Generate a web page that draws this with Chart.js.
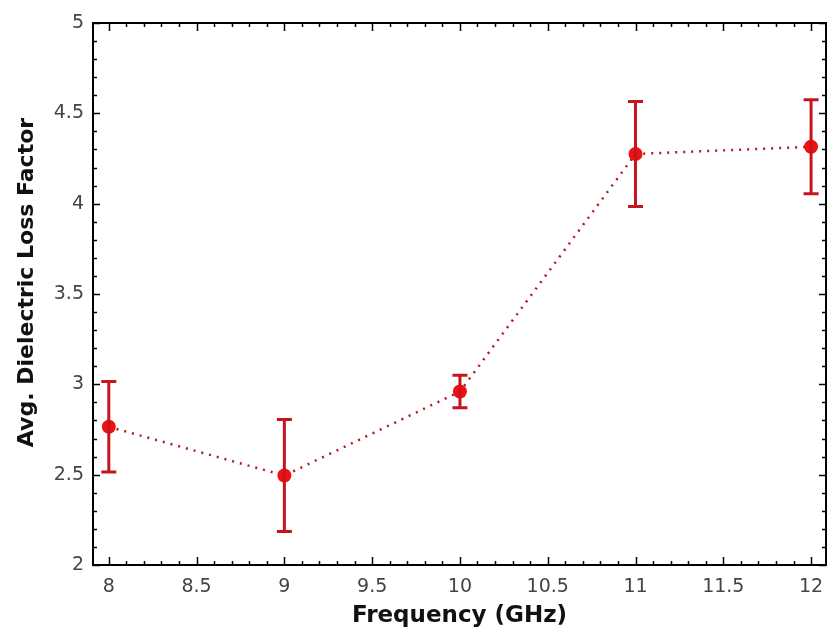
<!DOCTYPE html>
<html>
<head>
<meta charset="utf-8">
<script src="https://cdn.jsdelivr.net/npm/chart.js@4.4.1/dist/chart.umd.min.js"></script>
<style>
  html, body { margin: 0; padding: 0; background: #fff; }
  #wrap { width: 833px; height: 635px; }
</style>
</head>
<body>
<div id="wrap"><canvas id="chart"></canvas></div>
<script>
// data
const frequencies = [8, 9, 10, 11, 12]
const lossFactor = [2.765, 2.495, 2.96, 4.275, 4.315]
const lossError = [0.25, 0.31, 0.09, 0.29, 0.26]
const xTicks = [8, 8.5, 9, 9.5, 10, 10.5, 11, 11.5, 12]
const yTicks = [2, 2.5, 3, 3.5, 4, 4.5, 5]

const FONT = '"DejaVu Sans", Verdana, sans-serif'

// error bars, frame and inward ticks (major + minor)
const decorPlugin = {
  id: 'decor',
  afterDatasetsDraw(chart) {
    const ctx = chart.ctx
    const x = chart.scales.x
    const y = chart.scales.y
    const area = chart.chartArea

    ctx.save()
    // error bars
    ctx.strokeStyle = '#c8141e'
    ctx.lineWidth = 3
    frequencies.forEach((f, i) => {
      const px = x.getPixelForValue(f)
      const top = y.getPixelForValue(lossFactor[i] + lossError[i])
      const bot = y.getPixelForValue(lossFactor[i] - lossError[i])
      ctx.beginPath()
      ctx.moveTo(px, top); ctx.lineTo(px, bot)
      ctx.moveTo(px - 7.5, top); ctx.lineTo(px + 7.5, top)
      ctx.moveTo(px - 7.5, bot); ctx.lineTo(px + 7.5, bot)
      ctx.stroke()
    })

    // frame
    ctx.strokeStyle = '#000'
    ctx.lineWidth = 2
    ctx.strokeRect(area.left, area.top, area.right - area.left, area.bottom - area.top)

    // ticks
    ctx.lineWidth = 1.5
    ctx.beginPath()
    for (let k = 80; k <= 120; k++) {
      const v = k / 10
      const px = Math.round(x.getPixelForValue(v)) + 0.5
      const len = k % 5 === 0 ? 8 : 4
      ctx.moveTo(px, area.bottom); ctx.lineTo(px, area.bottom - len)
      ctx.moveTo(px, area.top); ctx.lineTo(px, area.top + len)
    }
    for (let k = 20; k <= 50; k++) {
      const v = k / 10
      const py = Math.round(y.getPixelForValue(v)) + 0.5
      const len = k % 5 === 0 ? 7 : 4
      ctx.moveTo(area.left, py); ctx.lineTo(area.left + len, py)
      ctx.moveTo(area.right, py); ctx.lineTo(area.right - len, py)
    }
    ctx.stroke()
    ctx.restore()
  }
}

const ctx = document.getElementById('chart').getContext('2d')
new Chart(ctx, {
  type: 'scatter',
  data: {
    datasets: [{
      label: 'Loss factor',
      data: frequencies.map((f, i) => ({ x: f, y: lossFactor[i] })),
      showLine: true,
      borderColor: '#b3181e',
      borderWidth: 2.5,
      borderDash: [2, 6],
      pointRadius: 7,
      pointBackgroundColor: '#ee1111',
      pointBorderColor: '#ee1111',
      pointBorderWidth: 0
    }]
  },
  options: {
    responsive: true,
    maintainAspectRatio: false,
    animation: false,
    layout: { padding: { top: 23, right: 5, left: 0, bottom: 0 } },
    plugins: {
      legend: { display: false },
      tooltip: { enabled: false }
    },
    scales: {
      x: {
        type: 'linear',
        min: 7.91,
        max: 12.085,
        afterBuildTicks: s => { s.ticks = xTicks.map(v => ({ value: v })) },
        afterFit: s => { s.height = 70; s.paddingLeft = 0; s.paddingRight = 0 },
        grid: { display: false, drawTicks: false },
        border: { display: false },
        ticks: {
          padding: 11,
          color: '#444',
          font: { family: FONT, size: 19 },
          callback: v => String(v)
        },
        title: {
          display: true,
          text: 'Frequency (GHz)',
          color: '#111',
          font: { family: FONT, size: 23, weight: 'bold' },
          padding: { top: 0, bottom: 5 }
        }
      },
      y: {
        min: 2,
        max: 5,
        afterBuildTicks: s => { s.ticks = yTicks.map(v => ({ value: v })) },
        afterFit: s => { s.width = 93; s.paddingTop = 0; s.paddingBottom = 0 },
        grid: { display: false, drawTicks: false },
        border: { display: false },
        ticks: {
          padding: 9,
          color: '#444',
          font: { family: FONT, size: 19 },
          callback: v => String(v)
        },
        title: {
          display: true,
          text: '   Avg. Dielectric Loss Factor',
          color: '#111',
          font: { family: FONT, size: 22, weight: 'bold' },
          padding: { top: 14, bottom: 0 }
        }
      }
    }
  },
  plugins: [decorPlugin]
})
</script>
</body>
</html>
